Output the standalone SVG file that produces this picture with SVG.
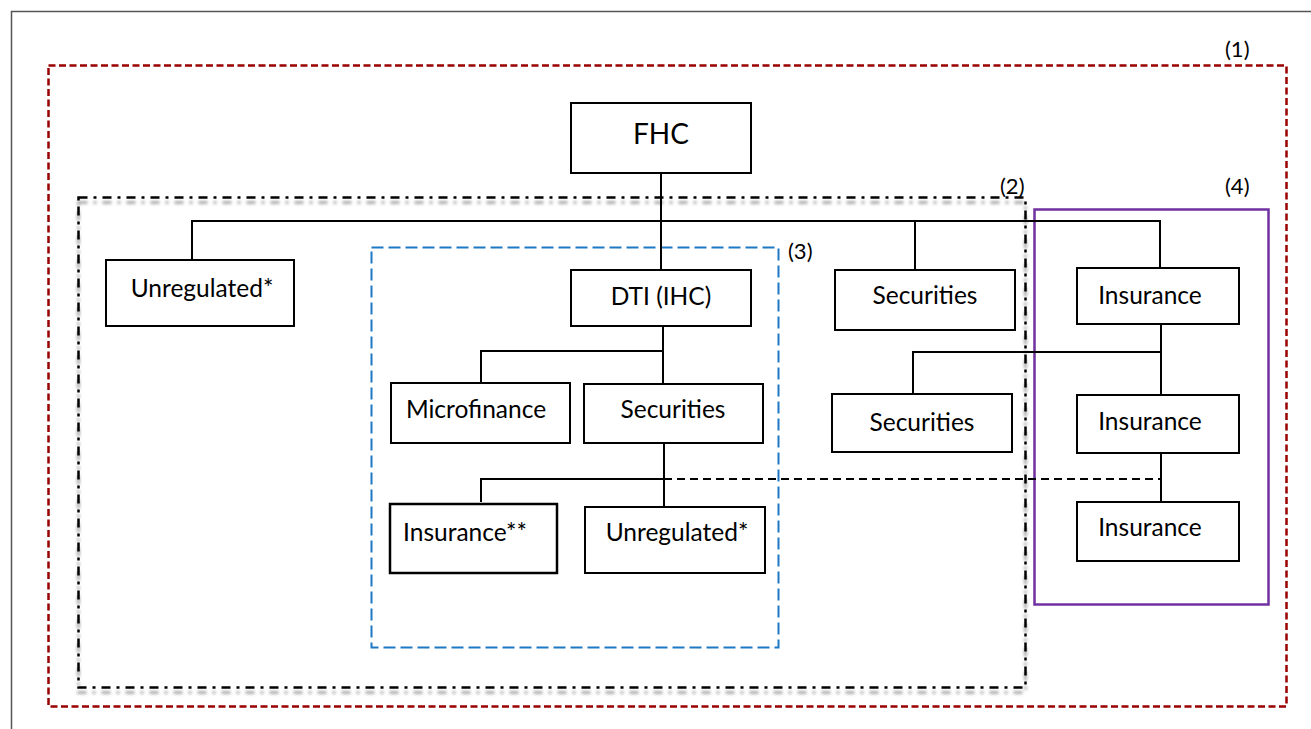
<svg xmlns="http://www.w3.org/2000/svg" width="1311" height="729" viewBox="0 0 1311 729">
<defs>
<filter id="blur" x="-5%" y="-5%" width="110%" height="110%"><feGaussianBlur stdDeviation="1.6"/></filter>
<style>
.box{fill:#fff;stroke:#000;stroke-width:2}
.lbl{font-family:Lato,"Liberation Sans",sans-serif;font-size:24.5px;fill:#000;text-anchor:middle}
.tag{font-family:Lato,"Liberation Sans",sans-serif;font-size:22px;fill:#000}
.ln{fill:none;stroke:#000;stroke-width:2}
</style>
</defs>
<rect width="1311" height="729" fill="#fff"/>
<path d="M11.5,729 V11.5 H1311" fill="none" stroke="#555" stroke-width="1.5"/>
<g id="regions">
<rect id="region1" x="48.5" y="65.5" width="1238" height="641" fill="none" stroke="#990000" stroke-width="2.5" stroke-dasharray="7,3.5"/>
<rect x="78.5" y="202.5" width="947" height="490" fill="none" stroke="#aaa" stroke-width="3" stroke-dasharray="9,6,3,6" filter="url(#blur)"/>
<rect id="region2" x="78.5" y="197.5" width="947" height="490" fill="none" stroke="#000" stroke-width="2.5" stroke-dasharray="9,6,3,6"/>
<rect id="region3" x="371.5" y="247.5" width="407" height="400" fill="none" stroke="#1f78c4" stroke-width="2" stroke-dasharray="12,5"/>
<rect id="region4" x="1034.5" y="209.5" width="234" height="395" fill="none" stroke="#7030a0" stroke-width="2.5"/>
<text class="tag" x="1225" y="57">(1)</text>
<text class="tag" x="1000" y="194">(2)</text>
<text class="tag" x="788" y="259">(3)</text>
<text class="tag" x="1225" y="194">(4)</text>
</g>
<g id="connectors">
<path class="ln" d="M661,173 V270"/>
<path class="ln" d="M192,260 V221 H1160 V268"/>
<path class="ln" d="M915,221 V270"/>
<path class="ln" d="M481,383 V351 H663"/>
<path class="ln" d="M663,326 V384"/>
<path class="ln" d="M664,443 V507"/>
<path class="ln" d="M481,502 V479 H664"/>
<path class="ln" d="M664,479 H1161" stroke-dasharray="8,5"/>
<path class="ln" d="M1161,324 V395"/>
<path class="ln" d="M913,394 V352 H1161"/>
<path class="ln" d="M1161,453 V502"/>
</g>
<g id="n-fhc"><rect class="box" x="571" y="103" width="180" height="70"/><text class="lbl" x="661" y="144" style="font-size:28px">FHC</text></g>
<g id="n-unreg1"><rect class="box" x="106" y="260" width="188" height="66"/><text class="lbl" x="202" y="297">Unregulated*</text></g>
<g id="n-dti"><rect class="box" x="571" y="270" width="180" height="56"/><text class="lbl" x="661" y="305">DTI (IHC)</text></g>
<g id="n-sec1"><rect class="box" x="835" y="270" width="180" height="60"/><text class="lbl" x="925" y="304">Securities</text></g>
<g id="n-ins1"><rect class="box" x="1077" y="268" width="162" height="56"/><text class="lbl" x="1150" y="304">Insurance</text></g>
<g id="n-micro"><rect class="box" x="391" y="383" width="179" height="60"/><text class="lbl" x="476" y="418">Microfinance</text></g>
<g id="n-sec2"><rect class="box" x="584" y="384" width="179" height="59"/><text class="lbl" x="673" y="418">Securities</text></g>
<g id="n-sec3"><rect class="box" x="832" y="394" width="180" height="58"/><text class="lbl" x="922" y="431">Securities</text></g>
<g id="n-ins2"><rect class="box" x="1077" y="395" width="162" height="58"/><text class="lbl" x="1150" y="430">Insurance</text></g>
<g id="n-ins-star"><rect class="box" x="390" y="504" width="167" height="69" style="stroke-width:2.5"/><text class="lbl" x="465" y="541">Insurance**</text></g>
<g id="n-unreg2"><rect class="box" x="585" y="507" width="180" height="66"/><text class="lbl" x="677" y="541">Unregulated*</text></g>
<g id="n-ins3"><rect class="box" x="1077" y="502" width="162" height="59"/><text class="lbl" x="1150" y="536">Insurance</text></g>
</svg>
